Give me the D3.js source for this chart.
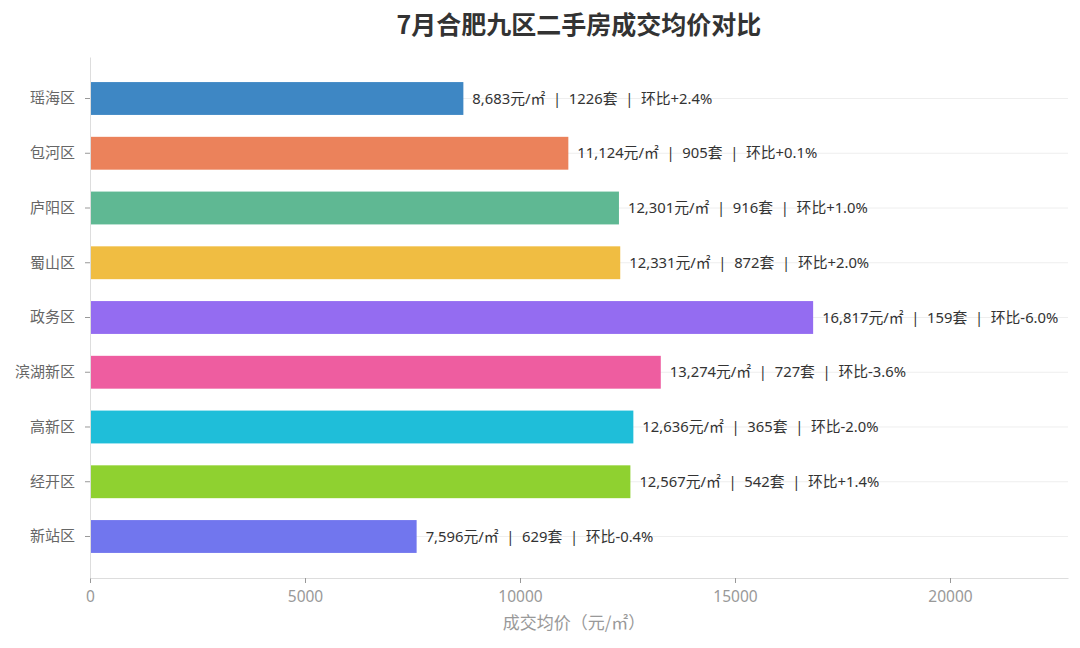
<!DOCTYPE html>
<html>
<head>
<meta charset="utf-8">
<script src="https://cdn.jsdelivr.net/npm/d3@7"></script>
<style>
  body { margin: 0; background: #fff; }
  svg { font-family: "Noto Sans", "Noto Sans CJK SC", sans-serif; }
</style>
</head>
<body>
<svg id="chart"></svg>
<script>
var districts = ["瑶海区", "包河区", "庐阳区", "蜀山区", "政务区", "滨湖新区", "高新区", "经开区", "新站区"]
var avgPrice = [8683, 11124, 12301, 12331, 16817, 13274, 12636, 12567, 7596]
var dealCount = [1226, 905, 916, 872, 159, 727, 365, 542, 629]
var momChange = ["+2.4", "+0.1", "+1.0", "+2.0", "-6.0", "-3.6", "-2.0", "+1.4", "-0.4"]
var barColors = ["#3e87c4", "#eb825b", "#5fb893", "#f0bd42", "#946cf1", "#ee5da0", "#1fbed9", "#8fd130", "#7176ee"]
var xTicks = [0, 5000, 10000, 15000, 20000]

var dimensions = {
  width: 1080,
  height: 648,
  margin: { top: 57, bottom: 70, right: 12, left: 90 }
}

var data = districts.map((d, i) => ({
  name: d, price: avgPrice[i], count: dealCount[i], mom: momChange[i], color: barColors[i]
}))

var svg = d3.select("#chart")
  .attr("width", dimensions.width)
  .attr("height", dimensions.height)

var plotBottom = dimensions.height - dimensions.margin.bottom
var plotRight = dimensions.width - dimensions.margin.right

var xScale = d3.scaleLinear()
  .domain([0, 22744])
  .range([dimensions.margin.left, plotRight])

var yScale = d3.scaleBand()
  .domain(districts)
  .range([dimensions.margin.top, plotBottom])
  .paddingInner(0.4)
  .paddingOuter(0.458)

// category grid lines
svg.append("g")
  .selectAll("line")
  .data(districts)
  .enter().append("line")
  .attr("x1", dimensions.margin.left)
  .attr("x2", plotRight)
  .attr("y1", d => yScale(d) + yScale.bandwidth() / 2)
  .attr("y2", d => yScale(d) + yScale.bandwidth() / 2)
  .attr("stroke", "#eeeeee")
  .attr("stroke-width", 1)

// bars
svg.append("g")
  .selectAll("rect")
  .data(data)
  .enter().append("rect")
  .attr("x", xScale(0))
  .attr("y", d => yScale(d.name))
  .attr("width", d => xScale(d.price) - xScale(0))
  .attr("height", yScale.bandwidth())
  .attr("fill", d => d.color)

// bar labels
svg.append("g")
  .selectAll("text")
  .data(data)
  .enter().append("text")
  .attr("x", d => xScale(d.price) + 9)
  .attr("y", d => yScale(d.name) + yScale.bandwidth() / 2)
  .attr("dy", "0.35em")
  .attr("font-size", 14.8)
  .attr("fill", "#333")
  .attr("xml:space", "preserve")
  .text(d => d3.format(",")(d.price) + "元/㎡  |  " + d.count + "套  |  环比" + d.mom + "%")

// x axis
var xAxis = svg.append("g")
  .attr("transform", `translate(0,${plotBottom})`)
  .call(d3.axisBottom(xScale).tickValues(xTicks).tickFormat(d3.format("d")).tickSize(5).tickPadding(8).tickSizeOuter(0))
xAxis.select(".domain").attr("stroke", "#dddddd")
xAxis.selectAll(".tick line").attr("stroke", "#999")
xAxis.selectAll(".tick text").attr("fill", "#999").attr("font-size", 15.5)
  .style("font-family", "'Noto Sans', sans-serif")

// y axis
var yAxis = svg.append("g")
  .attr("transform", `translate(${dimensions.margin.left},0)`)
  .call(d3.axisLeft(yScale).tickSize(5).tickPadding(10).tickSizeOuter(0))
yAxis.select(".domain").attr("stroke", "#dddddd")
yAxis.selectAll(".tick line").attr("stroke", "#999")
yAxis.selectAll(".tick text").attr("fill", "#666").attr("font-size", 15)
  .style("font-family", "'Noto Sans CJK SC', sans-serif")

// title
svg.append("text")
  .attr("x", (dimensions.margin.left + plotRight) / 2)
  .attr("y", 34)
  .attr("text-anchor", "middle")
  .attr("font-size", 25)
  .attr("font-weight", "bold")
  .attr("fill", "#333")
  .style("font-family", "'Noto Sans CJK SC', sans-serif")
  .text("7月合肥九区二手房成交均价对比")

// x axis label
svg.append("text")
  .attr("x", 574)
  .attr("y", 629)
  .attr("text-anchor", "middle")
  .attr("font-size", 17)
  .attr("fill", "#999")
  .style("font-family", "'Noto Sans CJK SC', sans-serif")
  .text("成交均价（元/㎡）")
</script>
</body>
</html>
